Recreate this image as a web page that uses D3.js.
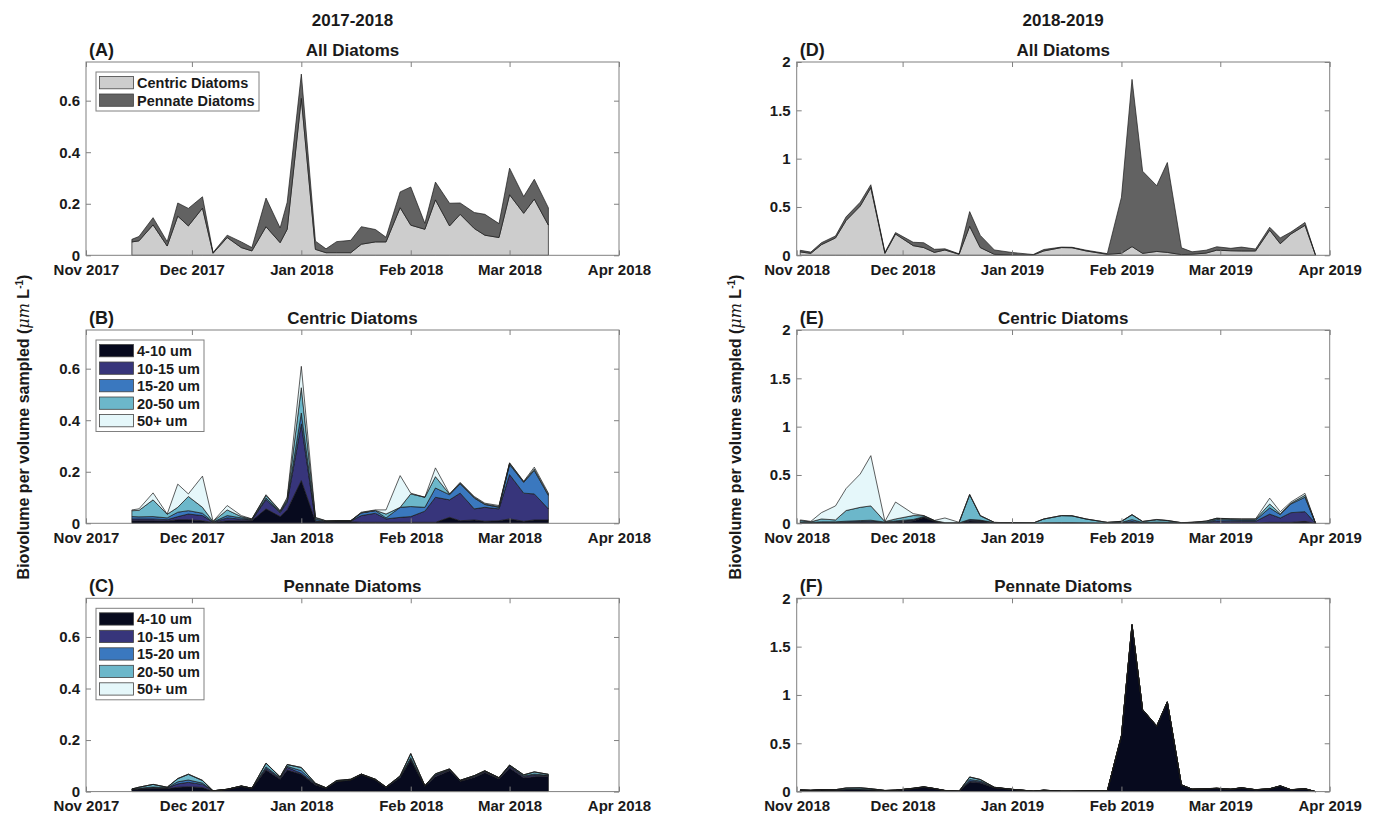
<!DOCTYPE html>
<html>
<head>
<meta charset="utf-8">
<script src="https://cdn.jsdelivr.net/npm/d3@7"></script>
<style>
  body { margin: 0; background: #fff; }
  text { font-family: "Liberation Sans", Arial, Helvetica, sans-serif; font-weight: bold; fill: #1a1a1a; }
</style>
</head>
<body>
<div id="chart"></div>
<script>
// ---- data ----
var seasons = ["2017-2018", "2018-2019"];
var sizeClasses = ["4-10 um", "10-15 um", "15-20 um", "20-50 um", "50+ um"];
var groups = ["Centric Diatoms", "Pennate Diatoms"];
var monthTicks1718 = ["2017-11-01", "2017-12-01", "2018-01-01", "2018-02-01", "2018-03-01", "2018-04-01"];
var monthTicks1819 = ["2018-11-01", "2018-12-01", "2019-01-01", "2019-02-01", "2019-03-01", "2019-04-01"];
var yTicksLeft = [0, 0.2, 0.4, 0.6];
var yTicksRight = [0, 0.5, 1, 1.5, 2];

var dates1718 = ["2017-11-14","2017-11-16","2017-11-20","2017-11-24","2017-11-27","2017-11-30",
  "2017-12-04","2017-12-07","2017-12-11","2017-12-15","2017-12-18","2017-12-22","2017-12-26","2017-12-28",
  "2018-01-01","2018-01-05","2018-01-08","2018-01-11","2018-01-15","2018-01-18","2018-01-22","2018-01-25","2018-01-29",
  "2018-02-01","2018-02-05","2018-02-08","2018-02-12","2018-02-15","2018-02-19","2018-02-22","2018-02-26",
  "2018-03-01","2018-03-05","2018-03-08","2018-03-12"];

// centric diatoms 2017-18, per date: [4-10, 10-15, 15-20, 20-50, 50+]
var centric1718 = [
  [0.010,0.007,0.009,0.023,0.003],[0.010,0.007,0.008,0.025,0.006],[0.010,0.007,0.009,0.065,0.027],
  [0.009,0.005,0.007,0.014,0.001],[0.014,0.012,0.017,0.019,0.090],[0.014,0.022,0.013,0.055,0.010],
  [0.010,0.020,0.009,0.023,0.121],[0.003,0.001,0.001,0.002,0.001],[0.010,0.011,0.009,0.022,0.017],
  [0.010,0.006,0.005,0.005,0.004],[0.010,0.003,0.001,0.002,0.001],[0.056,0.036,0.006,0.010,0.003],
  [0.026,0.015,0.003,0.003,0.002],[0.052,0.030,0.006,0.007,0.006],[0.166,0.220,0.042,0.098,0.083],
  [0.008,0.002,0.006,0.005,0.002],[0.005,0.002,0.001,0.001,0.001],[0.006,0.002,0.001,0.001,0.000],
  [0.006,0.002,0.001,0.001,0.000],[0.004,0.026,0.010,0.001,0.002],[0.004,0.035,0.010,0.001,0.002],
  [0.004,0.013,0.004,0.015,0.016],[0.004,0.019,0.039,0.000,0.123],[0.004,0.022,0.039,0.049,0.003],
  [0.004,0.043,0.015,0.039,0.000],[0.004,0.097,0.036,0.044,0.034],[0.023,0.068,0.020,0.002,0.001],
  [0.010,0.107,0.036,0.003,0.003],[0.013,0.043,0.042,0.003,0.003],[0.008,0.054,0.011,0.002,0.003],
  [0.010,0.046,0.006,0.003,0.004],[0.017,0.172,0.039,0.005,0.002],[0.008,0.109,0.042,0.002,0.002],
  [0.013,0.101,0.091,0.006,0.007],[0.013,0.043,0.052,0.004,0.005]
];

// pennate diatoms 2017-18
var pennate1718 = [
  [0.008,0.001,0.000,0.001,0],[0.010,0.002,0.001,0.004,0],[0.012,0.004,0.002,0.010,0],
  [0.012,0.002,0.001,0.002,0],[0.017,0.013,0.008,0.012,0.001],[0.019,0.017,0.009,0.022,0.001],
  [0.016,0.012,0.005,0.010,0.001],[0.002,0.001,0,0,0],[0.008,0.001,0,0,0],
  [0.020,0.001,0,0.001,0],[0.012,0.001,0,0,0],[0.084,0.006,0.006,0.014,0.001],
  [0.048,0.004,0.002,0.003,0],[0.084,0.010,0.004,0.007,0],[0.067,0.004,0.010,0.012,0.001],
  [0.026,0.003,0.001,0.002,0],[0.013,0.001,0,0.001,0],[0.039,0.001,0,0.003,0],
  [0.045,0.001,0,0.002,0],[0.066,0.001,0,0.001,0],[0.045,0.001,0,0.002,0],
  [0.016,0.001,0,0.001,0],[0.055,0.002,0.001,0.003,0],[0.122,0.005,0.005,0.015,0.001],
  [0.021,0.001,0,0.001,0],[0.058,0.005,0.002,0.004,0],[0.081,0.004,0.001,0.002,0],
  [0.040,0.002,0.001,0.001,0],[0.055,0.004,0.001,0.002,0],[0.074,0.004,0.001,0.002,0],
  [0.049,0.003,0.001,0.001,0],[0.092,0.006,0.002,0.003,0],[0.054,0.005,0.002,0.004,0],
  [0.058,0.006,0.004,0.008,0.001],[0.060,0.002,0.001,0.004,0]
];

var dates1819 = ["2018-11-02","2018-11-05","2018-11-08","2018-11-12","2018-11-15","2018-11-19","2018-11-22",
  "2018-11-26","2018-11-29","2018-12-04","2018-12-07","2018-12-10","2018-12-13","2018-12-17","2018-12-20",
  "2018-12-23","2018-12-27","2019-01-01","2019-01-07","2019-01-10","2019-01-15","2019-01-18","2019-01-22",
  "2019-01-28","2019-02-01","2019-02-04","2019-02-07","2019-02-11","2019-02-14","2019-02-18","2019-02-21",
  "2019-02-25","2019-02-28","2019-03-04","2019-03-07","2019-03-11","2019-03-15","2019-03-18","2019-03-21",
  "2019-03-25","2019-03-28"];

var centric1819 = [
  [0.005,0.003,0.003,0.017,0.007],[0.004,0.003,0.002,0.006,0.005],[0.006,0.004,0.005,0.030,0.065],
  [0.006,0.004,0.005,0.020,0.145],[0.008,0.006,0.008,0.110,0.228],[0.010,0.008,0.010,0.137,0.345],
  [0.012,0.010,0.010,0.148,0.520],[0.006,0.004,0.003,0.005,0.002],[0.010,0.008,0.007,0.020,0.175],
  [0.025,0.008,0.007,0.040,0.020],[0.060,0.005,0.003,0.010,0.002],[0.020,0.003,0.002,0.003,0.002],
  [0.003,0.001,0.001,0.002,0.048],[0.003,0.001,0.001,0.003,0.002],[0.025,0.010,0.005,0.255,0.005],
  [0.020,0.008,0.005,0.045,0.002],[0.004,0.002,0.001,0.002,0.001],[0.001,0.001,0.001,0.002,0],
  [0.001,0,0,0.002,0],[0.002,0.002,0.002,0.038,0.001],[0.002,0.002,0.003,0.072,0.001],
  [0.002,0.002,0.003,0.070,0.001],[0.002,0.002,0.002,0.038,0.001],[0.002,0.001,0.001,0.005,0.001],
  [0.005,0.003,0.002,0.010,0.001],[0.010,0.008,0.020,0.050,0.002],[0.004,0.002,0.002,0.010,0.002],
  [0.004,0.003,0.005,0.025,0.003],[0.004,0.003,0.004,0.017,0.002],[0.002,0.001,0.001,0.002,0.001],
  [0.002,0.002,0.002,0.004,0.001],[0.003,0.004,0.005,0.010,0.001],[0.004,0.020,0.015,0.012,0.002],
  [0.004,0.018,0.013,0.010,0.002],[0.004,0.017,0.012,0.010,0.002],[0.004,0.017,0.012,0.010,0.002],
  [0.010,0.085,0.065,0.040,0.060],[0.010,0.045,0.035,0.010,0.020],[0.010,0.100,0.090,0.007,0.013],
  [0.020,0.100,0.150,0.020,0.020],[0,0,0,0,0]
];

var pennate1819 = [
  [0.015,0.001,0,0.001,0],[0.012,0.001,0,0,0],[0.017,0.001,0.001,0.001,0],
  [0.014,0.002,0.001,0.003,0],[0.020,0.003,0.004,0.010,0.001],[0.020,0.003,0.004,0.012,0.001],
  [0.018,0.002,0.003,0.007,0],[0.010,0.001,0,0.001,0],[0.013,0.001,0,0.001,0],
  [0.030,0.002,0.001,0.002,0],[0.045,0.002,0.001,0.002,0],[0.030,0.001,0,0.001,0],
  [0.010,0.001,0,0.001,0],[0.004,0.001,0,0,0],[0.100,0.010,0.015,0.025,0.002],
  [0.090,0.010,0.010,0.015,0.001],[0.040,0.002,0.001,0.002,0],[0.022,0.001,0,0.001,0],
  [0.004,0.001,0,0,0],[0.013,0.001,0,0.001,0],[0.005,0,0,0,0],
  [0.005,0,0,0,0],[0.008,0,0,0,0],[0.007,0,0,0,0],
  [0.575,0.002,0.001,0.002,0],[1.720,0.004,0.002,0.004,0],[0.845,0.002,0.001,0.002,0],
  [0.675,0.002,0.001,0.002,0],[0.925,0.002,0.001,0.002,0],[0.068,0.001,0,0.001,0],
  [0.024,0.001,0,0,0],[0.028,0.001,0,0.001,0],[0.033,0.001,0,0.001,0],
  [0.023,0.001,0,0.001,0],[0.038,0.001,0,0.001,0],[0.018,0.001,0,0.001,0],
  [0.028,0.001,0,0.001,0],[0.057,0.001,0,0.002,0],[0.018,0.001,0,0.001,0],
  [0.028,0.001,0,0.001,0],[0,0,0,0,0]
];

// ---- styles ----
var classColors = ["#070a1e", "#37357b", "#3a78bf", "#6cb7ca", "#e5f7fa"];
var groupColors = ["#cdcdcd", "#626262"];

var parse = d3.utcParse("%Y-%m-%d");
var fmtMonth = d3.utcFormat("%b %Y");

var svg = d3.select("#chart").append("svg")
  .attr("width", 1379)
  .attr("height", 819);

var colX = [86, 796.7];
var plotW = 533;
var rowTop = [62, 330, 598.3];
var plotH = 193.3;

function sumRows(rows) {
  return rows.map(function(r) { return d3.sum(r); });
}

function drawPanel(opt) {
  var g = svg.append("g").attr("transform", "translate(" + opt.left + "," + opt.top + ")");
  var dates = opt.dates.map(parse);
  var x = d3.scaleUtc().domain([parse(opt.ticks[0]), parse(opt.ticks[opt.ticks.length - 1])]).range([0, plotW]);
  var y = d3.scaleLinear().domain([0, opt.yMax]).range([plotH, 0]);

  var keys = d3.range(opt.colors.length);
  var series = d3.stack().keys(keys)(opt.rows);

  var area = d3.area()
    .x(function(d, i) { return x(dates[i]); })
    .y0(function(d) { return y(d[0]); })
    .y1(function(d) { return y(d[1]); });

  g.selectAll(".layer")
    .data(series)
    .enter().append("path")
    .attr("class", "layer")
    .attr("d", area)
    .style("fill", function(d, i) { return opt.colors[i]; })
    .style("stroke", "#1a1a1a")
    .style("stroke-width", 0.7)
    .style("stroke-linejoin", "round");

  var tickVals = opt.ticks.map(parse);

  // bottom axis with labels, ticks pointing in
  var xb = g.append("g").attr("transform", "translate(0," + plotH + ")")
    .call(d3.axisBottom(x).tickValues(tickVals).tickFormat(fmtMonth).tickSizeInner(-5).tickSizeOuter(0).tickPadding(9));
  var xt = g.append("g")
    .call(d3.axisTop(x).tickValues(tickVals).tickFormat("").tickSizeInner(-5).tickSizeOuter(0));
  var yl = g.append("g")
    .call(d3.axisLeft(y).tickValues(opt.yTicks).tickFormat(function(d) { return String(d); }).tickSizeInner(-5).tickSizeOuter(0).tickPadding(6));
  var yr = g.append("g").attr("transform", "translate(" + plotW + ",0)")
    .call(d3.axisRight(y).tickValues(opt.yTicks).tickFormat("").tickSizeInner(-5).tickSizeOuter(0));

  [xb, xt, yl, yr].forEach(function(a) {
    a.select(".domain").remove();
    a.selectAll("line").style("stroke", "#808080");
    a.selectAll("text").style("font-size", "15px").style("font-family", null).style("fill", "#1a1a1a");
  });

  g.append("rect")
    .attr("width", plotW)
    .attr("height", plotH)
    .style("fill", "none")
    .style("stroke", "#808080")
    .style("stroke-width", 1);

  g.append("text")
    .attr("x", 3)
    .attr("y", -6)
    .style("font-size", "18px")
    .text(opt.letter);

  g.append("text")
    .attr("x", plotW / 2)
    .attr("y", -6)
    .attr("text-anchor", "middle")
    .style("font-size", "17px")
    .text(opt.title);

  if (opt.legend) {
    var n = opt.legend.length;
    var lg = g.append("g").attr("transform", "translate(10,10)");
    lg.append("rect")
      .attr("width", opt.legendW)
      .attr("height", 4.5 + 17.5 * (n - 1) + 12.3 + 4.7)
      .style("fill", "#fff")
      .style("stroke", "#808080")
      .style("stroke-width", 1);
    var item = lg.selectAll(".item")
      .data(opt.legend)
      .enter().append("g")
      .attr("class", "item")
      .attr("transform", function(d, i) { return "translate(0," + (4.5 + 17.5 * i) + ")"; });
    item.append("rect")
      .attr("x", 3.5)
      .attr("width", 34)
      .attr("height", 12.3)
      .style("fill", function(d, i) { return opt.colors[i]; })
      .style("stroke", "#444")
      .style("stroke-width", 0.8);
    item.append("text")
      .attr("x", 41)
      .attr("y", 11.5)
      .style("font-size", "14.5px")
      .text(function(d) { return d; });
  }
}

// season headers
seasons.forEach(function(s, i) {
  svg.append("text")
    .attr("x", colX[i] + plotW / 2)
    .attr("y", 26)
    .attr("text-anchor", "middle")
    .style("font-size", "17px")
    .text(s);
});

// left column 2017-2018
var allRows1718 = centric1718.map(function(r, i) { return [d3.sum(r), d3.sum(pennate1718[i])]; });
drawPanel({ left: colX[0], top: rowTop[0], dates: dates1718, rows: allRows1718, colors: groupColors,
  ticks: monthTicks1718, yMax: 0.75, yTicks: yTicksLeft, letter: "(A)", title: "All Diatoms",
  legend: groups, legendW: 163 });
drawPanel({ left: colX[0], top: rowTop[1], dates: dates1718, rows: centric1718, colors: classColors,
  ticks: monthTicks1718, yMax: 0.75, yTicks: yTicksLeft, letter: "(B)", title: "Centric Diatoms",
  legend: sizeClasses, legendW: 108 });
drawPanel({ left: colX[0], top: rowTop[2], dates: dates1718, rows: pennate1718, colors: classColors,
  ticks: monthTicks1718, yMax: 0.75, yTicks: yTicksLeft, letter: "(C)", title: "Pennate Diatoms",
  legend: sizeClasses, legendW: 108 });

// right column 2018-2019
var allRows1819 = centric1819.map(function(r, i) { return [d3.sum(r), d3.sum(pennate1819[i])]; });
drawPanel({ left: colX[1], top: rowTop[0], dates: dates1819, rows: allRows1819, colors: groupColors,
  ticks: monthTicks1819, yMax: 2, yTicks: yTicksRight, letter: "(D)", title: "All Diatoms" });
drawPanel({ left: colX[1], top: rowTop[1], dates: dates1819, rows: centric1819, colors: classColors,
  ticks: monthTicks1819, yMax: 2, yTicks: yTicksRight, letter: "(E)", title: "Centric Diatoms" });
drawPanel({ left: colX[1], top: rowTop[2], dates: dates1819, rows: pennate1819, colors: classColors,
  ticks: monthTicks1819, yMax: 2, yTicks: yTicksRight, letter: "(F)", title: "Pennate Diatoms" });

// y axis labels
[29, 741].forEach(function(xp) {
  var t = svg.append("text")
    .attr("transform", "translate(" + xp + ",427) rotate(-90)")
    .attr("text-anchor", "middle")
    .style("font-size", "16px");
  t.append("tspan").text("Biovolume per volume sampled (");
  t.append("tspan").style("font-style", "italic").style("font-family", "'DejaVu Serif', serif").style("font-weight", "normal").text("\u03bcm");
  t.append("tspan").text(" L");
  t.append("tspan").attr("dy", -6).style("font-size", "10px").text("-1");
  t.append("tspan").attr("dy", 6).text(")");
});
</script>
</body>
</html>
